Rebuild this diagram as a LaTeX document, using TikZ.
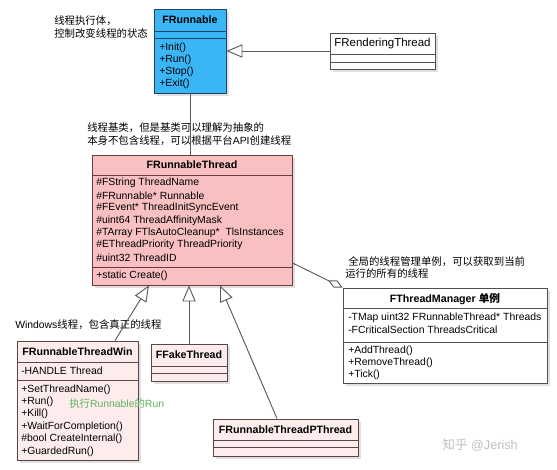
\documentclass[tikz,border=0pt]{standalone}
\usepackage{fontspec}
\setmainfont{Liberation Sans}
\newfontfamily\cjk{Noto Sans CJK SC}
\usetikzlibrary{arrows.meta,fit,shadows,calc}
\definecolor{blueF}{RGB}{58,182,246}
\definecolor{blueB}{RGB}{30,70,100}
\definecolor{pinkF}{RGB}{248,192,192}
\definecolor{pinkB}{RGB}{110,60,60}
\definecolor{lpinkF}{RGB}{253,236,236}
\definecolor{lpinkB}{RGB}{90,70,70}
\definecolor{grayB}{RGB}{80,80,80}
\definecolor{connC}{RGB}{90,90,90}
\definecolor{greenT}{RGB}{95,180,95}
\newcommand\umlfont{\fontsize{7.8}{9.2}\selectfont}
\newcommand\titlefont{\fontsize{8}{9.5}\selectfont\bfseries}
\begin{document}
\begin{tikzpicture}[x=0.75pt,y=-0.75pt,
  umlbox/.style={draw, inner sep=0pt, line width=0.7pt,
    drop shadow={shadow xshift=2.5pt, shadow yshift=-2.5pt, fill=black!12, opacity=1}},
  bluebox/.style={umlbox, draw=blueB, fill=blueF},
  pinkbox/.style={umlbox, draw=pinkB, fill=pinkF},
  lpinkbox/.style={umlbox, draw=lpinkB, fill=lpinkF},
  whitebox/.style={umlbox, draw=grayB, fill=white},
  row/.style={anchor=west, inner sep=0pt, font=\umlfont},
  ttl/.style={inner sep=0pt, font=\titlefont},
  note/.style={anchor=west, inner sep=0pt, font=\umlfont\cjk},
  conn/.style={draw=connC, line width=0.7pt},
  inherit/.style={conn, -{Triangle[open, length=12pt, width=10pt]}},
  aggr/.style={conn, -{Diamond[open, length=12pt, width=6pt]}}
]
\useasboundingbox (0,0) rectangle (557,470);
\fill[white] (0,0) rectangle (557,470);

% ---- boxes
\node[bluebox, fit={(154,9) (226,93)}] (frunnable) {};
\node[whitebox, fit={(330,33) (435,69)}] (frend) {};
\node[pinkbox, fit={(92,155) (292,285)}] (frt) {};
\node[lpinkbox, fit={(17,341) (138,460)}] (win) {};
\node[lpinkbox, fit={(151,344) (227,381)}] (fake) {};
\node[lpinkbox, fit={(213,419) (358,456)}] (pth) {};
\node[whitebox, fit={(343,288) (547,383)}] (mgr) {};

% ---- dividers
\draw[blueB, line width=0.7pt] (frunnable.west |- 0,31) -- (frunnable.east |- 0,31)
  (frunnable.west |- 0,38) -- (frunnable.east |- 0,38);
\draw[grayB, line width=0.7pt] (frend.west |- 0,54) -- (frend.east |- 0,54)
  (frend.west |- 0,62) -- (frend.east |- 0,62);
\draw[pinkB, line width=0.7pt] (frt.west |- 0,175) -- (frt.east |- 0,175)
  (frt.west |- 0,267) -- (frt.east |- 0,267);
\draw[lpinkB, line width=0.7pt] (win.west |- 0,362) -- (win.east |- 0,362)
  (win.west |- 0,380) -- (win.east |- 0,380);
\draw[lpinkB, line width=0.7pt] (fake.west |- 0,366) -- (fake.east |- 0,366)
  (fake.west |- 0,373) -- (fake.east |- 0,373);
\draw[lpinkB, line width=0.7pt] (pth.west |- 0,440) -- (pth.east |- 0,440)
  (pth.west |- 0,447) -- (pth.east |- 0,447);
\draw[grayB, line width=0.7pt] (mgr.west |- 0,308) -- (mgr.east |- 0,308)
  (mgr.west |- 0,342) -- (mgr.east |- 0,342);

% ---- titles
\node[ttl] (frunnableT) at (190,20) {FRunnable};
\node[inner sep=0pt, font=\fontsize{8.6}{10}\selectfont] (frendT) at (382.5,44) {FRenderingThread};
\node[ttl] (frtT) at (192,165) {FRunnableThread};
\node[ttl] (winT) at (77.5,352) {FRunnableThreadWin};
\node[ttl] (fakeT) at (189,355) {FFakeThread};
\node[ttl] (pthT) at (285.5,430) {FRunnableThreadPThread};
\node[ttl] (mgrT) at (445,299) {FThreadManager {\cjk 单例}};

% ---- rows
\foreach \rowtext [count=\i] in {+Init(), +Run(), +Stop(), +Exit()}
  \node[row] (frunr\i) at (159,{48+12*(\i-1)}) {\rowtext};
\foreach \rowtext [count=\i] in {\#FString ThreadName, \#FRunnable* Runnable,
    \#FEvent* ThreadInitSyncEvent, \#uint64 ThreadAffinityMask,
    \#TArray FTlsAutoCleanup*\ \ TlsInstances, \#EThreadPriority ThreadPriority,
    \#uint32 ThreadID}
  \node[row] (frtr\i) at (96,{183+12.45*(\i-1)}) {\rowtext};
\node[row] (frtm1) at (96,276) {+static Create()};
\node[row] (winr1) at (21,371) {-HANDLE Thread};
\foreach \rowtext [count=\i] in {+SetThreadName(), +Run(), +Kill(),
    +WaitForCompletion(), \#bool CreateInternal(), +GuardedRun()}
  \node[row] (winm\i) at (21,{389.5+12.4*(\i-1)}) {\rowtext};
\node[row] (mgrr1) at (348,318) {-TMap uint32 FRunnableThread* Threads};
\node[row] (mgrr2) at (348,330) {-FCriticalSection ThreadsCritical};
\foreach \rowtext [count=\i] in {+AddThread(), +RemoveThread(), +Tick()}
  \node[row] (mgrm\i) at (348,{351+12*(\i-1)}) {\rowtext};

% ---- notes
\node[note] (n1a) at (54,21) {线程执行体，};
\node[note] (n1b) at (54,34) {控制改变线程的状态};
\node[note] (n2a) at (87,128) {线程基类，但是基类可以理解为抽象的};
\node[note] (n2b) at (87,141) {本身不包含线程，可以根据平台{\rmfamily API}创建线程};
\node[note] (n3a) at (348,262) {全局的线程管理单例，可以获取到当前};
\node[note] (n3b) at (345,274) {运行的所有的线程};
\node[note] (n4) at (15,325) {{\rmfamily Windows}线程，包含真正的线程};
\node[note, text=greenT] (n5) at (69,404) {执行{\rmfamily Runnable}的{\rmfamily Run}};
\node[anchor=west, inner sep=0pt, text=black!25, font=\fontsize{9.5}{11}\selectfont] (wm) at (442,445) {{\cjk 知乎} @Jerish};

% ---- connectors
\draw[inherit] (frend.west) -- (frunnable.east |- frend.west);
\draw[conn] (frunnable.south) -- (frunnable.south |- frt.north);
\draw[inherit] ($(win.north)+(37.5,0)$) -- ($(frt.south)+(-43,0)$);
\draw[inherit] (fake.north) -- (fake.north |- frt.south);
\draw[inherit] ($(pth.north)+(-8.5,0)$) -- ($(frt.south)+(28,0)$);
\draw[aggr] ($(frt.east)+(0,43)$) -- (mgr.north west);
\end{tikzpicture}
\end{document}
